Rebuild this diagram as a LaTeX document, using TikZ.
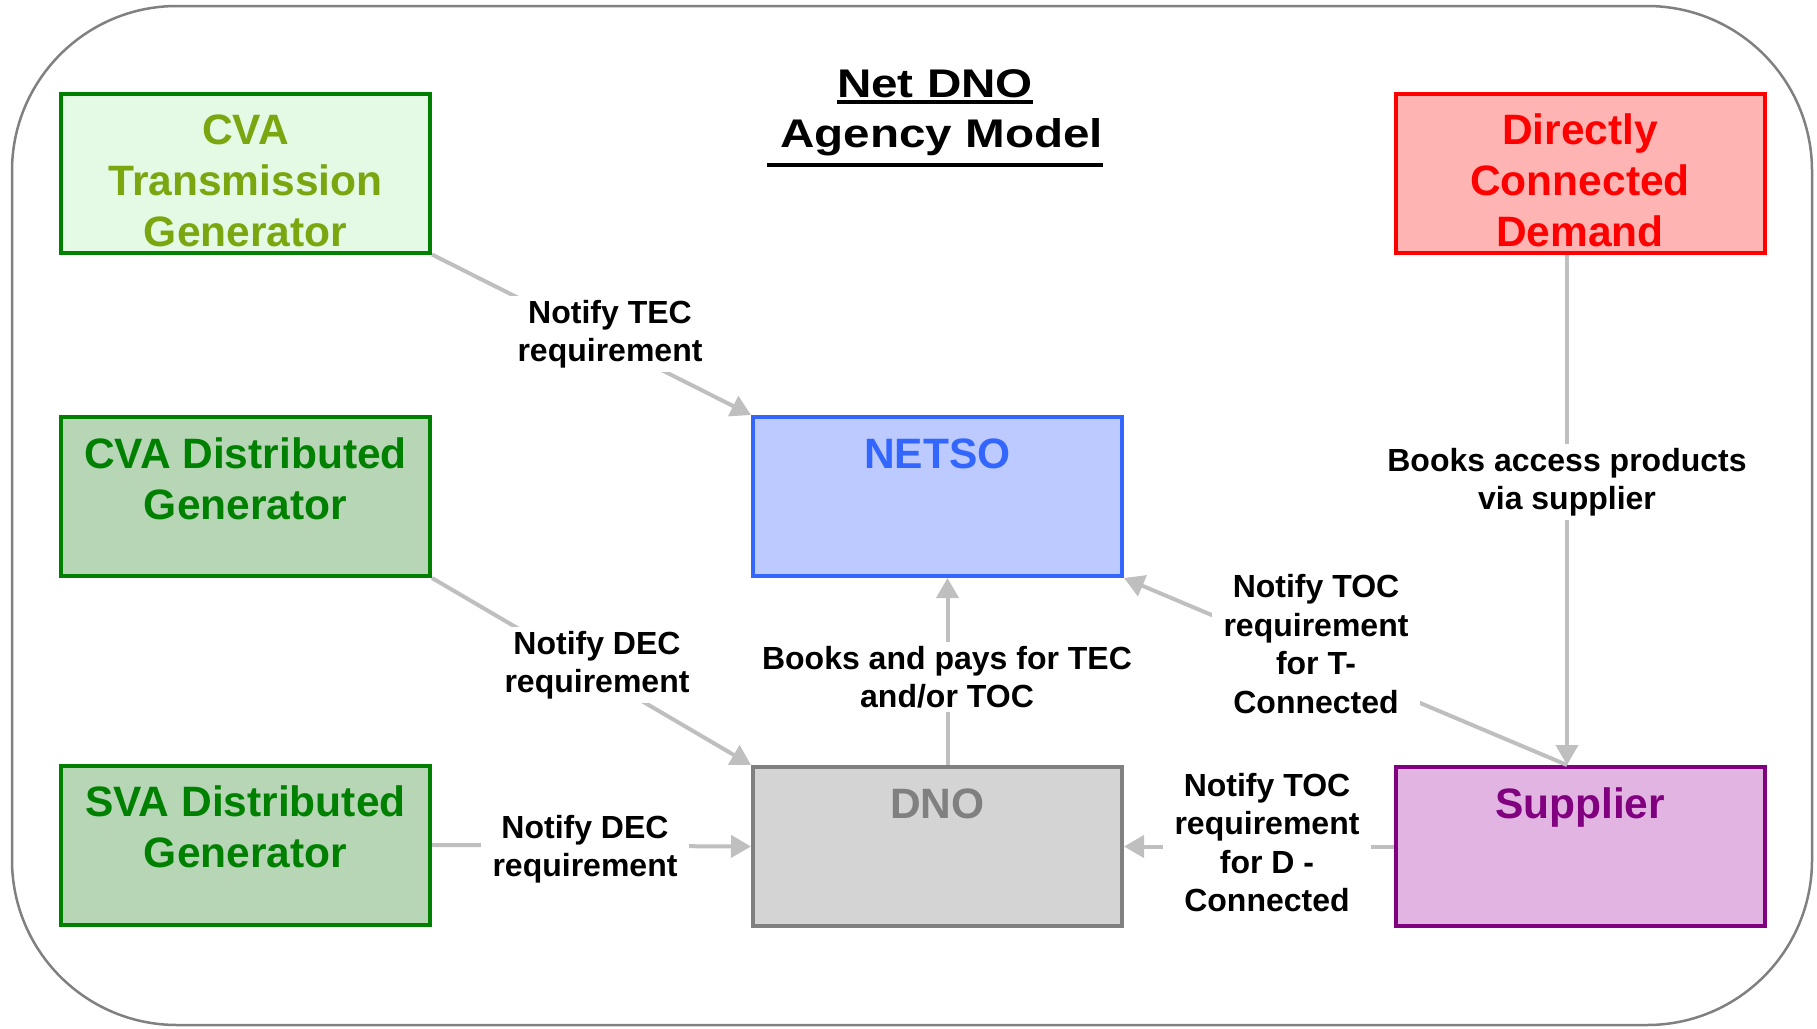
\documentclass[tikz,border=0pt]{standalone}
\usepackage{fontspec}
\setmainfont{Liberation Sans}
\usetikzlibrary{arrows.meta}
\definecolor{cgray}{RGB}{191,191,191}
\definecolor{frame}{RGB}{128,128,128}
\definecolor{dgreen}{RGB}{0,128,0}
\definecolor{olive}{RGB}{122,166,16}
\definecolor{fcvat}{RGB}{228,250,228}
\definecolor{fdist}{RGB}{182,214,182}
\definecolor{cblue}{RGB}{51,102,255}
\definecolor{fblue}{RGB}{188,202,255}
\definecolor{cdno}{RGB}{128,128,128}
\definecolor{fdno}{RGB}{212,212,212}
\definecolor{cred}{RGB}{255,0,0}
\definecolor{fred}{RGB}{255,180,180}
\definecolor{cpurp}{RGB}{128,0,128}
\definecolor{fpurp}{RGB}{226,180,226}
\newcommand\boxtext[1]{\raisebox{0pt}[51pt][108pt]{\begin{tabular}[t]{@{}c@{}}#1\end{tabular}}}
\newcommand\ulx[2]{\setbox0\hbox{#2}\rlap{\rule[\dimexpr-#1pt-2pt\relax]{\wd0}{4pt}}\box0}
\tikzset{
  box/.style={draw, line width=4pt, minimum width=369pt, minimum height=159pt,
    inner sep=0pt, font=\bfseries\fontsize{42.5}{51}\selectfont},
  conn/.style={draw=cgray, line width=4pt, -{Triangle[length=20pt,width=22pt]}},
  lbl/.style={fill=white, align=center, inner xsep=12pt, inner ysep=4pt,
    font=\bfseries\fontsize{32}{38.5}\selectfont}
}
\begin{document}
\begin{tikzpicture}[x=1pt,y=-1pt]
\useasboundingbox (0,0) rectangle (1817,1028);
\draw[frame, line width=2.5pt, rounded corners=165pt] (12,6) rectangle (1812,1025);

\node[anchor=base, inner sep=0pt, font=\bfseries\fontsize{40}{50}\selectfont] (title) at (935,97)
  {\scalebox{1.19}[1]{\begin{tabular}[t]{@{}c@{}}\ulx{5}{Net DNO}\\\ulx{18}{\ Agency Model}\end{tabular}}};

\node[box, draw=dgreen, fill=fcvat, text=olive] (cvat) at (245.5,173) {\boxtext{CVA\\Transmission\\Generator}};
\node[box, draw=dgreen, fill=fdist, text=dgreen] (cvad) at (245.5,496.5) {\boxtext{CVA Distributed\\Generator}};
\node[box, draw=dgreen, fill=fdist, text=dgreen] (svad) at (245.5,845) {\boxtext{SVA Distributed\\Generator}};
\node[box, draw=cblue, fill=fblue, text=cblue] (netso) at (937.5,496.5) {\boxtext{NETSO}};
\node[box, draw=cdno, fill=fdno, text=cdno] (dno) at (937.5,846.5) {\boxtext{DNO}};
\node[box, draw=cred, fill=fred, text=cred] (dcd) at (1580,173) {\boxtext{Directly\\Connected\\Demand}};
\node[box, draw=cpurp, fill=fpurp, text=cpurp] (sup) at (1580,846.5) {\boxtext{Supplier}};

\coordinate (supt) at ([xshift=-13pt]sup.north);
\coordinate (dcdb) at ([xshift=-13pt]dcd.south);
\coordinate (dnot) at ([xshift=10pt]dno.north);
\coordinate (netsob) at ([xshift=10pt]netso.south);

\draw[conn] (cvat.south east) -- (netso.north west);
\draw[conn] (cvad.south east) -- (dno.north west);
\draw[conn] (svad.east) -- (dno.west);
\draw[conn] (dnot) -- (netsob);
\draw[conn] (supt) -- (netso.south east);
\draw[conn] (dcdb) -- (supt);
\draw[conn] (sup.west) -- (dno.east);

\node[lbl] (l1) at (610,334) {Notify TEC\\requirement};
\node[lbl] (l2) at (597,665) {Notify DEC\\requirement};
\node[lbl] (l3) at (585,849) {Notify DEC\\requirement};
\node[lbl] (l4) at (947,677) {Books and pays for TEC\\and/or TOC};
\node[lbl] (l5) at (1316,644) {Notify TOC\\requirement\\for T-\\Connected};
\node[lbl] (l6) at (1567,482) {Books access products\\via supplier};
\node[lbl] (l7) at (1267,842.5) {Notify TOC\\requirement\\for D -\\Connected};
\end{tikzpicture}
\end{document}
